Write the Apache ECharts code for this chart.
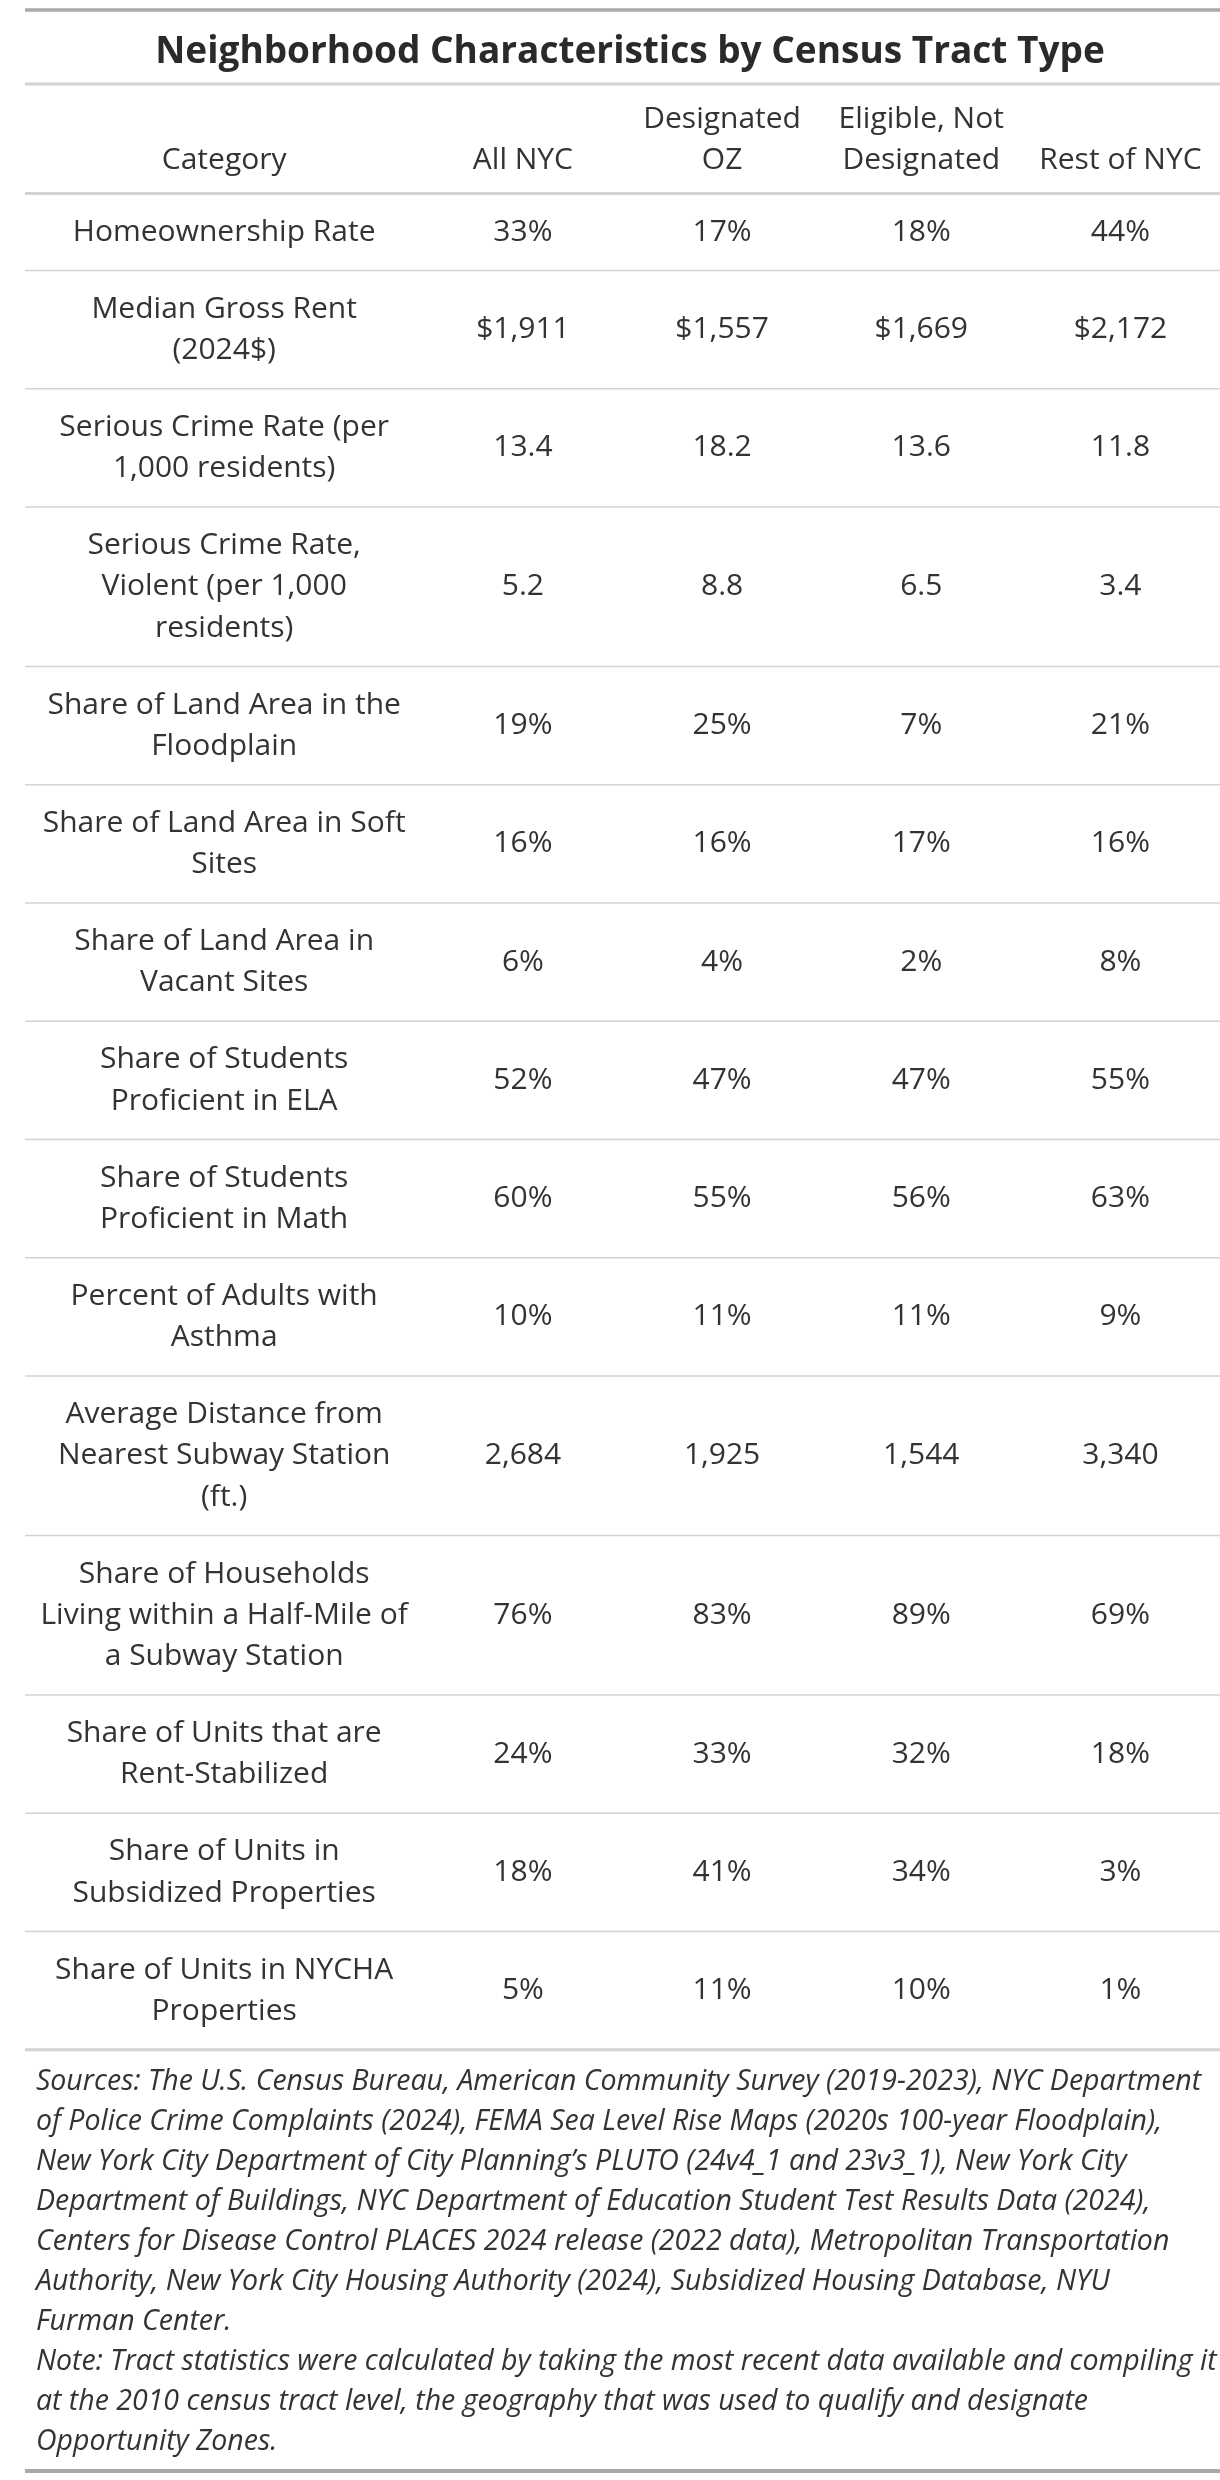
<!DOCTYPE html>
<html>
<head>
<meta charset="utf-8">
<title>Neighborhood Characteristics by Census Tract Type</title>
<script src="https://cdn.jsdelivr.net/npm/echarts@6/dist/echarts.min.js"></script>
<style>
  html, body { margin: 0; padding: 0; background: #fff; }
  #chart { width: 1220px; height: 2480px; }
</style>
</head>
<body>
<div id="chart"></div>
<script>
const chartTitle = 'Neighborhood Characteristics by Census Tract Type';
const columnHeaders = ['Category', 'All NYC', 'Designated\nOZ', 'Eligible, Not\nDesignated', 'Rest of NYC'];
const categories = [
    'Homeownership Rate',
    'Median Gross Rent\n(2024$)',
    'Serious Crime Rate (per\n1,000 residents)',
    'Serious Crime Rate,\nViolent (per 1,000\nresidents)',
    'Share of Land Area in the\nFloodplain',
    'Share of Land Area in Soft\nSites',
    'Share of Land Area in\nVacant Sites',
    'Share of Students\nProficient in ELA',
    'Share of Students\nProficient in Math',
    'Percent of Adults with\nAsthma',
    'Average Distance from\nNearest Subway Station\n(ft.)',
    'Share of Households\nLiving within a Half-Mile of\na Subway Station',
    'Share of Units that are\nRent-Stabilized',
    'Share of Units in\nSubsidized Properties',
    'Share of Units in NYCHA\nProperties'
];
// how the numbers of each row are printed
const rowFormats = ['pct', 'usd', 'dec', 'dec', 'pct', 'pct', 'pct', 'pct', 'pct', 'pct', 'int', 'pct', 'pct', 'pct', 'pct'];
const allNyc = [33, 1911, 13.4, 5.2, 19, 16, 6, 52, 60, 10, 2684, 76, 24, 18, 5];
const designatedOz = [17, 1557, 18.2, 8.8, 25, 16, 4, 47, 55, 11, 1925, 83, 33, 41, 11];
const eligibleNotDesignated = [18, 1669, 13.6, 6.5, 7, 17, 2, 47, 56, 11, 1544, 89, 32, 34, 10];
const restOfNyc = [44, 2172, 11.8, 3.4, 21, 16, 8, 55, 63, 9, 3340, 69, 18, 3, 1];
const footnoteLines = [
    'Sources: The U.S. Census Bureau, American Community Survey (2019-2023), NYC Department',
    'of Police Crime Complaints (2024), FEMA Sea Level Rise Maps (2020s 100-year Floodplain),',
    'New York City Department of City Planning\u2019s PLUTO (24v4_1 and 23v3_1), New York City',
    'Department of Buildings, NYC Department of Education Student Test Results Data (2024),',
    'Centers for Disease Control PLACES 2024 release (2022 data), Metropolitan Transportation',
    'Authority, New York City Housing Authority (2024), Subsidized Housing Database, NYU',
    'Furman Center.',
    'Note: Tract statistics were calculated by taking the most recent data available and compiling it',
    'at the 2010 census tract level, the geography that was used to qualify and designate',
    'Opportunity Zones.'
];

const FONT = '"Open Sans", "Noto Sans", sans-serif';
const TEXT = '#333333';
const LINE_H = 41.25;
const ROW_PAD = 35.75;
// x axis is in column units: category column is 2 wide, the others 1
const colCenters = [1, 2.5, 3.5, 4.5, 5.5];

function fmt(v, kind) {
    if (kind === 'pct') return v + '%';
    if (kind === 'usd') return '$' + v.toLocaleString('en-US');
    if (kind === 'dec') return v.toFixed(1);
    return v.toLocaleString('en-US');
}

// build layout: text cells and horizontal rules (y in px)
const cells = [];
const rules = [];
rules.push({ y: 10, w: 3.5, color: '#a9a9a9' });
rules.push({ y: 84, w: 3, color: '#d3d3d3' });
columnHeaders.forEach((h, c) => {
    cells.push({ x: colCenters[c], y: 181, text: h, align: 'center', va: 'bottom', size: 30 });
});
rules.push({ y: 193.5, w: 3, color: '#d3d3d3' });
let cursor = 193.5;
categories.forEach((cat, i) => {
    const n = cat.split('\n').length;
    const h = n * LINE_H + ROW_PAD;
    const mid = cursor + h / 2;
    const vals = [cat, fmt(allNyc[i], rowFormats[i]), fmt(designatedOz[i], rowFormats[i]),
        fmt(eligibleNotDesignated[i], rowFormats[i]), fmt(restOfNyc[i], rowFormats[i])];
    vals.forEach((t, c) => {
        cells.push({ x: colCenters[c], y: mid, text: t, align: 'center', va: 'middle', size: 30 });
    });
    cursor += h;
    const last = i === categories.length - 1;
    rules.push({ y: cursor, w: last ? 3 : 1.5, color: '#d3d3d3' });
});
cells.push({ x: 0.055, y: cursor + 12, text: footnoteLines.join('\n'), align: 'left', va: 'top', size: 28.5, italic: true, lh: 40 });
rules.push({ y: 2471, w: 4, color: '#a9a9a9' });

var myChart = echarts.init(document.getElementById('chart'));
myChart.setOption({
    backgroundColor: '#ffffff',
    animation: false,
    title: {
        text: chartTitle,
        left: 625,
        top: 29,
        textAlign: 'center',
        textStyle: { fontFamily: FONT, fontSize: 37, fontWeight: 'bold', color: '#2a2a2a' }
    },
    grid: { left: 25, top: 0, width: 1200, height: 2480 },
    xAxis: { type: 'value', min: 0, max: 6, show: false },
    yAxis: { type: 'value', min: 0, max: 2480, inverse: true, show: false },
    series: [{
        type: 'custom',
        name: 'rules',
        clip: false,
        silent: true,
        data: rules.map((r, i) => i),
        renderItem(params, api) {
            const r = rules[params.dataIndex];
            const a = api.coord([0, r.y]);
            const b = api.coord([6, r.y]);
            return {
                type: 'line',
                shape: { x1: a[0], y1: a[1], x2: b[0], y2: b[1] },
                style: { stroke: r.color, lineWidth: r.w }
            };
        }
    }, {
        type: 'custom',
        name: 'cells',
        clip: false,
        silent: true,
        data: cells.map((c, i) => i),
        renderItem(params, api) {
            const c = cells[params.dataIndex];
            const p = api.coord([c.x, c.y]);
            return {
                type: 'text',
                x: p[0],
                y: p[1],
                style: {
                    text: c.text,
                    fontFamily: FONT,
                    fontSize: c.size,
                    fontStyle: c.italic ? 'italic' : 'normal',
                    lineHeight: c.lh || LINE_H,
                    fill: TEXT,
                    align: c.align,
                    verticalAlign: c.va
                }
            };
        }
    }]
});
</script>
</body>
</html>
